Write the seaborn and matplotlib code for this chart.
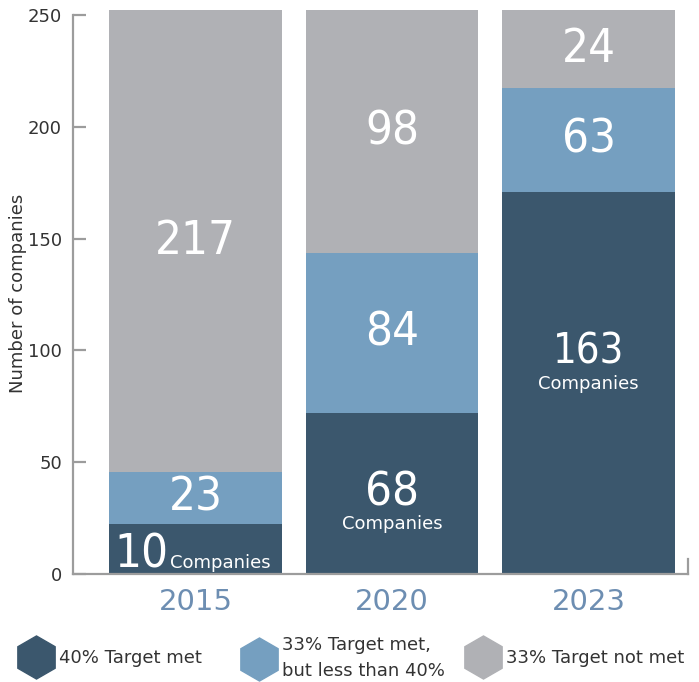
import pandas as pd
import matplotlib.pyplot as plt
import seaborn as sns
from matplotlib.lines import Line2D

# bar heights as drawn in the picture (number of companies axis)
years = ['2015', '2020', '2023']
met40 = [22.4, 72.0, 170.6]
met33 = [23.2, 71.6, 46.9]
not_met = [206.4, 108.4, 34.5]

# numbers printed on the bars
labels_met40 = ['10', '68', '163']
labels_met33 = ['23', '84', '63']
labels_not = ['217', '98', '24']

categories = ['40% Target met', '33% Target met,\nbut less than 40%', '33% Target not met']
colors = ['#3b576d', '#759fc0', '#b0b1b5']

df = pd.DataFrame({'year': years, 'met40': met40, 'met33': met33, 'not_met': not_met})
df['lvl2'] = df['met40'] + df['met33']
df['lvl3'] = df['lvl2'] + df['not_met']

sns.set_theme(style='white')
plt.rcParams['font.family'] = ['DejaVu Sans']

W, H = 699, 682
fig = plt.figure(figsize=(W / 100, H / 100), dpi=100)
ax = fig.add_axes([73 / W, 1 - 574 / H, (688 - 73) / W, (574 - 10) / H])

# stacked bars: draw cumulative totals back to front
for col, c in zip(['lvl3', 'lvl2', 'met40'], colors[::-1]):
    sns.barplot(data=df, x='year', y=col, color=c, saturation=1, width=0.88,
                errorbar=None, linewidth=0, ax=ax)

ax.set_xlim(-0.623, 2.506)
ax.set_ylim(0, 252.2)
ax.set_yticks([0, 50, 100, 150, 200, 250])
ax.set_xlabel('')
ax.set_ylabel('Number of companies', fontsize=13, color='#333333')
ax.yaxis.set_label_coords(-0.074, 0.497)

spine_c = '#9c9c9c'
ax.spines['top'].set_visible(False)
ax.spines['left'].set_bounds(0, 250)
ax.spines['right'].set_bounds(0, 6.5)
for s in ['left', 'bottom', 'right']:
    ax.spines[s].set_color(spine_c)
    ax.spines[s].set_linewidth(1.6)
ax.tick_params(axis='y', direction='in', length=9.5, width=1.6, color=spine_c,
               labelsize=13, labelcolor='#333333', pad=8, left=True)
ax.tick_params(axis='x', length=0, labelsize=21, labelcolor='#6d8eb2', pad=10)

num_font = dict(family=['DejaVu Sans'], stretch='condensed',
                color='white', ha='center', va='center')
big = 34

for i in range(len(years)):
    # gray and light blue segment labels at segment middles
    ax.text(i, df['lvl2'][i] + not_met[i] / 2, labels_not[i], fontsize=big, **num_font)
    ax.text(i, met40[i] + met33[i] / 2, labels_met33[i], fontsize=big, **num_font)

# dark segment labels with "Companies"
t10 = ax.text(-0.41, 2.7, labels_met40[0], fontsize=big,
              **{**num_font, 'ha': 'left', 'va': 'baseline'})
ax.annotate('Companies', xy=(1, 2.7), xycoords=(t10, 'data'), xytext=(1, 0),
            textcoords='offset points', fontsize=13, color='white', va='baseline')

ax.text(1, met40[1] / 2, labels_met40[1], fontsize=big, **num_font)
ax.annotate('Companies', xy=(1, met40[1] / 2), xytext=(0, -22),
            textcoords='offset points', fontsize=13, color='white', ha='center', va='center')

ax.text(2, met40[2] / 2 + 14, labels_met40[2], fontsize=30, **num_font)
ax.annotate('Companies', xy=(2, met40[2] / 2 + 14), xytext=(0, -23),
            textcoords='offset points', fontsize=13, color='white', ha='center', va='center')

# legend: one entry per block, hexagon markers
lefts = [23, 246, 470]
for lab, c, x0 in zip(categories, colors, lefts):
    h = Line2D([], [], marker='h', linestyle='none', markersize=31,
               markerfacecolor=c, markeredgecolor=c)
    leg = fig.legend(handles=[h], labels=[lab], loc='center left',
                     bbox_to_anchor=(x0 / W, 1 - 658 / H), frameon=False,
                     fontsize=13, handlelength=1.4, handletextpad=0.6,
                     borderpad=0, borderaxespad=0)
    for t in leg.get_texts():
        t.set_color('#333333')
        t.set_linespacing(1.55)

fig.savefig('out.png', dpi=100)
